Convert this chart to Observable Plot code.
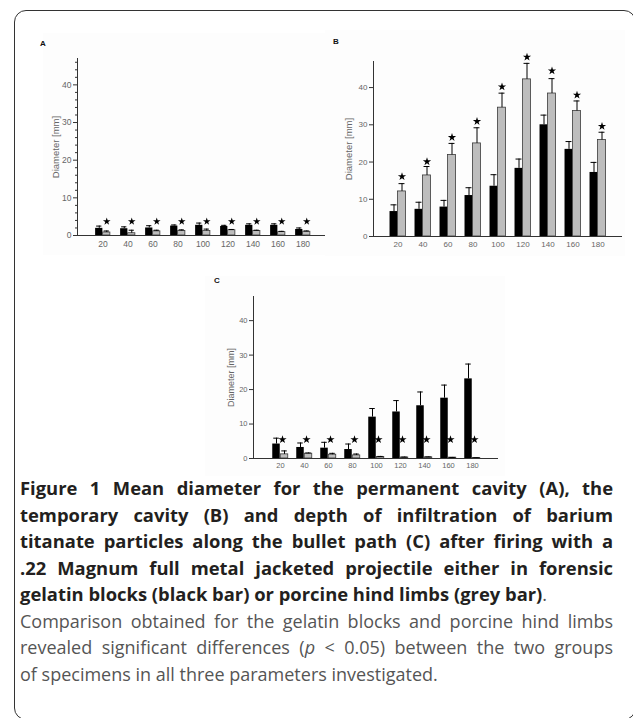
<!DOCTYPE html>
<html><head><meta charset="utf-8">
<script src="https://cdn.jsdelivr.net/npm/d3@7"></script>
<script src="https://cdn.jsdelivr.net/npm/@observablehq/plot@0.6"></script>
<style>
body{margin:0;background:#fff;}
#page{position:relative;width:633px;height:718px;overflow:hidden;font-family:"Open Sans",sans-serif;}
#box{position:absolute;left:14px;top:10px;width:620px;height:708px;border:1.5px solid #333;border-radius:12px;}
.panel{position:absolute;}
.plabel{position:absolute;font:bold 8px "Liberation Sans",Arial,sans-serif;color:#111;}
#caption{position:absolute;left:20px;top:475px;width:593px;font-size:18px;line-height:26.5px;color:#555;}
#caption b{color:#231f20;font-weight:700;font-size:18.4px;}
.j{text-align:justify;text-align-last:justify;}
</style></head>
<body><div id="page">
<div id="box"></div>
<div id="pA" class="panel"></div>
<div id="pB" class="panel"></div>
<div id="pC" class="panel"></div>
<div class="plabel" style="left:40px;top:39px">A</div>
<div class="plabel" style="left:333px;top:37px">B</div>
<div class="plabel" style="left:214px;top:276px">C</div>
<div id="caption">
<div class="j"><b>Figure 1 Mean diameter for the permanent cavity (A), the</b></div>
<div class="j"><b>temporary cavity (B) and depth of infiltration of barium</b></div>
<div class="j"><b>titanate particles along the bullet path (C) after firing with a</b></div>
<div class="j"><b>.22 Magnum full metal jacketed projectile either in forensic</b></div>
<div><b>gelatin blocks (black bar) or porcine hind limbs (grey bar)</b>.</div>
<div class="j">Comparison obtained for the gelatin blocks and porcine hind limbs</div>
<div class="j">revealed significant differences (<i>p</i> &lt; 0.05) between the two groups</div>
<div>of specimens in all three parameters investigated.</div>
</div>
</div>
<script>
// Distance categories (x axis)
const categories = [20, 40, 60, 80, 100, 120, 140, 160, 180];
const yTicks = [0, 10, 20, 30, 40];
const minorTicksA = [2, 4, 6, 8, 12, 14, 16, 18, 22, 24, 26, 28, 32, 34, 36, 38, 42, 44, 46];
const yLabel = "Diameter [mm]";

// Panel A: permanent cavity
const aBlack   = [1.9, 1.8, 2.0, 2.5, 2.7, 2.4, 2.7, 2.7, 1.6];
const aBlackSd = [0.6, 0.5, 0.6, 0.3, 0.6, 0.3, 0.4, 0.4, 0.4];
const aGrey    = [0.8, 0.6, 1.1, 1.2, 1.2, 1.4, 1.2, 0.9, 1.0];
const aGreySd  = [0.4, 0.8, 0.3, 0.3, 0.5, 0.2, 0.2, 0.2, 0.2];
const aStar    = [3.7, 3.7, 3.7, 3.7, 3.7, 3.7, 3.7, 3.7, 3.7];

// Panel B: temporary cavity
const bBlack   = [6.7, 7.3, 7.9, 11.0, 13.5, 18.3, 30.0, 23.4, 17.2];
const bBlackSd = [1.8, 1.9, 1.8, 2.1, 3.1, 2.5, 2.6, 2.1, 2.7];
const bGrey    = [12.1, 16.4, 21.9, 25.0, 34.6, 42.2, 38.4, 33.7, 25.9];
const bGreySd  = [2.1, 2.4, 3.1, 4.2, 3.9, 4.3, 4.0, 2.7, 2.1];
const bStar    = [16.1, 20.1, 26.6, 30.9, 40.2, 48.2, 44.5, 38.0, 29.6];

// Panel C: depth of infiltration of barium titanate particles
const cBlack   = [4.2, 3.2, 3.0, 2.6, 12.0, 13.5, 15.3, 17.5, 23.1];
const cBlackSd = [1.7, 1.3, 1.7, 1.6, 2.5, 3.3, 4.0, 3.8, 4.3];
const cGrey    = [1.2, 1.4, 1.1, 0.9, 0.45, 0.3, 0.35, 0.25, 0.15];
const cGreySd  = [1.0, 0.2, 0.4, 0.4, 0.15, 0.1, 0.1, 0.05, 0.05];
const cStar    = [5.5, 5.5, 5.5, 5.5, 5.5, 5.5, 5.5, 5.5, 5.5];

function rowsOf(black, bsd, grey, gsd, star) {
  return categories.map((c, i) => ({cat: String(c), black: black[i], bsd: bsd[i], grey: grey[i], gsd: gsd[i], star: star[i]}));
}

function makePanel(el, rows, o) {
  const range = o.width - o.mL - o.mR;
  const step = range / (categories.length + 2 * o.pad);
  const half = step / 2;
  const bw = o.bw;
  const axisColor = "#333";
  const marks = [
    Plot.barY(rows, {x: "cat", y: "black", fill: "#000", insetLeft: half - bw, insetRight: half}),
    Plot.barY(rows, {x: "cat", y: "grey", fill: "#bdbdbd", stroke: "#3a3a3a", strokeWidth: 0.8, insetLeft: half, insetRight: half - bw}),
    Plot.ruleX(rows, {x: "cat", y1: "black", y2: d => d.black + d.bsd, dx: -bw / 2, stroke: "#000", strokeWidth: 1}),
    Plot.tickY(rows, {x: "cat", y: d => d.black + d.bsd, insetLeft: half - bw + 1, insetRight: half + 1, stroke: "#000", strokeWidth: 1}),
    Plot.ruleX(rows, {x: "cat", y1: "grey", y2: d => d.grey + d.gsd, dx: bw / 2, stroke: "#000", strokeWidth: 1}),
    Plot.tickY(rows, {x: "cat", y: d => d.grey + d.gsd, insetLeft: half + 1, insetRight: half - bw + 1, stroke: "#000", strokeWidth: 1}),
    Plot.dot(rows, {x: "cat", y: "star", symbol: "star", r: o.starR, fill: "#000", stroke: null, dx: bw / 2 + o.starDx}),
    Plot.ruleY([0], {stroke: axisColor, strokeWidth: 1}),
    Plot.frame({anchor: "left", stroke: axisColor, strokeWidth: 1}),
    Plot.axisX({tickSize: 0, tickPadding: o.xPad, fontSize: o.fs, fill: "#666", label: null}),
    Plot.axisY({ticks: yTicks, tickSize: 4, tickPadding: 2, fontSize: o.fs, fill: "#666", stroke: axisColor,
      label: yLabel, labelAnchor: "center", labelOffset: o.labelOffset, labelArrow: "none"})
  ];
  if (o.minor) marks.push(Plot.axisY({ticks: o.minor, tickSize: 2, stroke: axisColor, tickFormat: () => "", label: null}));
  const chart = Plot.plot({
    width: o.width, height: o.height,
    marginLeft: o.mL, marginRight: o.mR, marginTop: o.mT, marginBottom: o.mB,
    x: {type: "band", domain: categories.map(String), paddingInner: 0, paddingOuter: o.pad},
    y: {domain: [0, 47]},
    style: {fontFamily: "'Liberation Sans', Arial, sans-serif", fontSize: o.fs + "px", color: "#666", background: "#fdfdfd", overflow: "visible"},
    marks
  });
  el.style.left = o.left + "px";
  el.style.top = o.top + "px";
  el.appendChild(chart);
  chart.querySelectorAll("text").forEach(t => { if (t.textContent === yLabel) t.setAttribute("font-size", o.lfs); });
}

makePanel(document.getElementById("pA"), rowsOf(aBlack, aBlackSd, aGrey, aGreySd, aStar),
  {left: 43, top: 33, width: 290, height: 222, mL: 34, mR: 6, mT: 25, mB: 20, pad: 0.45, bw: 7.5, fs: 8.5, lfs: 9.5, xPad: 5, labelOffset: 25, starR: 2.4, starDx: 0, minor: minorTicksA});
makePanel(document.getElementById("pB"), rowsOf(bBlack, bBlackSd, bGrey, bGreySd, bStar),
  {left: 325, top: 30, width: 300, height: 226, mL: 48, mR: 3, mT: 31, mB: 20, pad: 0.47, bw: 8, fs: 8, lfs: 9.5, xPad: 5, labelOffset: 28, starR: 2.6, starDx: 0});
makePanel(document.getElementById("pC"), rowsOf(cBlack, cBlackSd, cGrey, cGreySd, cStar),
  {left: 205, top: 276, width: 300, height: 200, mL: 48, mR: 7, mT: 20, mB: 18, pad: 0.5, bw: 8, fs: 7.5, lfs: 9, xPad: 4, labelOffset: 26, starR: 2.6, starDx: -2});
</script>
</body></html>
